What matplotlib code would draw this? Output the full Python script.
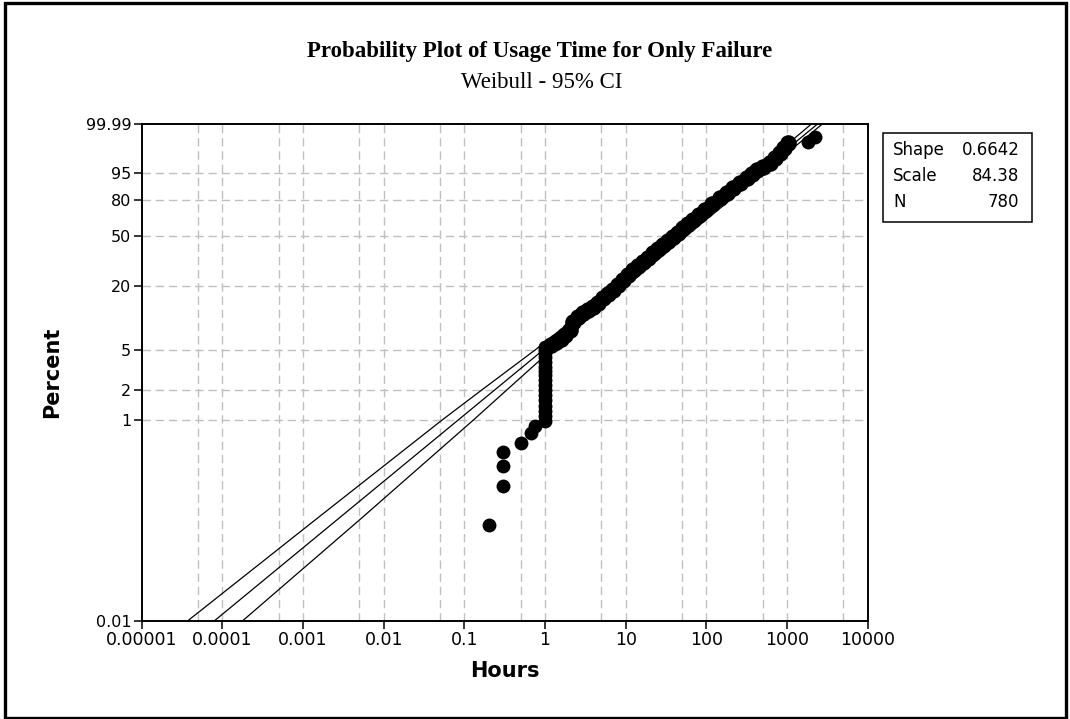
import numpy as np
import matplotlib.pyplot as plt
from matplotlib.patches import Rectangle

# failure data (hours, percent)
low_hours = [0.2, 0.3, 0.3, 0.3, 0.5, 0.68, 0.76]
low_pct = [0.090, 0.22, 0.35, 0.48, 0.60, 0.75, 0.88]

# ties at 1 hour
col_pct = [0.99, 1.1, 1.25, 1.4, 1.6, 1.8, 2.0, 2.25, 2.5, 2.8, 3.1, 3.4,
           3.8, 4.2, 4.6, 5.0, 5.3]

band_hours = [1.19, 1.37, 1.58, 1.77, 2.04, 2.22, 2.56, 2.95, 3.41, 3.93,
              4.53, 5.23, 6.03, 6.96, 8.02, 9.25, 10.7, 12.3, 14.2, 16.4,
              18.9, 21.8, 25.1, 29.0, 33.4, 38.6, 44.5, 51.3, 59.2, 68.2,
              81.0, 96.1, 117, 148, 180, 214, 261, 319, 368, 424,
              503, 615, 709, 818, 917, 1027]
band_pct = [5.53, 5.92, 6.33, 6.92, 7.73, 9.21, 10.28, 11.14, 11.96, 12.84,
            14.05, 15.36, 16.82, 18.28, 20.27, 22.44, 24.80, 27.37, 29.58, 32.10,
            34.72, 37.49, 40.46, 43.37, 46.39, 49.75, 53.15, 56.62, 60.23, 63.61,
            67.83, 71.99, 76.80, 81.10, 84.77, 87.72, 90.64, 92.86, 94.58, 95.90,
            96.87, 97.59, 98.52, 99.08, 99.50, 99.73]

top_hours = [1830, 2220]
top_pct = [99.78, 99.90]

# fitted line and 95% CI
fit_pct = [0.01, 99.99]
fit_hours = [8.0e-5, 2390]
ci_pct = [0.01, 0.1, 1, 2, 5, 20, 50, 80, 95, 99.99]
ci_lower = [3.74e-5, 1.38e-3, 0.0523, 0.164, 0.766, 7.51, 42.3, 150.5, 383, 2008]
ci_upper = [1.79e-4, 4.90e-3, 0.128, 0.335, 1.214, 10.37, 55.8, 198.4, 505, 2742]

shape = "0.6642"
scale = "84.38"
n_obs = "780"

y_ticks = [0.01, 1, 2, 5, 20, 50, 80, 95, 99.99]
y_labels = ["0.01", "1", "2", "5", "20", "50", "80", "95", "99.99"]
x_ticks = [1e-5, 1e-4, 1e-3, 1e-2, 1e-1, 1, 10, 100, 1000, 10000]
x_labels = ["0.00001", "0.0001", "0.001", "0.01", "0.1", "1", "10", "100",
            "1000", "10000"]
x_grid5 = [5e-5, 5e-4, 5e-3, 5e-2, 0.5, 5, 50, 500, 5000]


def weib(p):
    p = np.clip(np.asarray(p, dtype=float), 1e-9, 100 - 1e-9) / 100.0
    return np.log(-np.log(1 - p))


def weib_inv(y):
    return 100 * (1 - np.exp(-np.exp(np.asarray(y, dtype=float))))


fig = plt.figure(figsize=(10.7, 7.19), dpi=100)
ax = fig.add_axes([0.1324, 0.1367, 0.6785, 0.6908])
ax.set_xscale("log")
ax.set_yscale("function", functions=(weib, weib_inv))
ax.set_xlim(1e-5, 1e4)
ax.set_ylim(0.01, 99.99)

gridkw = dict(color="#c0c0c0", lw=1.0, dashes=(6, 3.5), zorder=0)
for p in y_ticks[1:-1]:
    ax.axhline(p, **gridkw)
for h in x_ticks[1:-1] + x_grid5:
    ax.axvline(h, **gridkw)

ax.plot(fit_hours, fit_pct, color="black", lw=0.9, zorder=2)
ax.plot(ci_lower, ci_pct, color="black", lw=0.9, zorder=2)
ax.plot(ci_upper, ci_pct, color="black", lw=0.9, zorder=2)

# dense run of points overlaps into a thick band
ax.plot(band_hours, band_pct, "o", color="black", ms=12, mew=0, zorder=3)
ax.plot(low_hours + [1.0] * len(col_pct) + top_hours,
        low_pct + col_pct + top_pct, "o", color="black", ms=10, mew=0,
        zorder=3)

ax.set_xticks(x_ticks)
ax.set_xticklabels(x_labels, fontsize=12.5)
ax.xaxis.set_minor_locator(plt.NullLocator())
ax.set_yticks(y_ticks)
ax.set_yticklabels(y_labels, fontsize=11.5)
ax.yaxis.set_minor_locator(plt.NullLocator())
ax.tick_params(direction="out", length=5.5, width=1.1, pad=2)
for s in ax.spines.values():
    s.set_linewidth(1.4)

fig.text(0.4717, 0.0668, "Hours", ha="center", va="center",
         fontsize=15, fontweight="bold")
fig.text(0.0486, 0.4826, "Percent", ha="center", va="center",
         fontsize=15, fontweight="bold", rotation=90)

fig.text(0.5042, 0.9277, "Probability Plot of Usage Time for Only Failure",
         ha="center", va="center", fontsize=16.5, fontweight="bold",
         family="Liberation Serif")
fig.text(0.506, 0.8846, "Weibull - 95% CI", ha="center", va="center",
         fontsize=16.5, family="Liberation Serif")

# stats box
fig.patches.append(Rectangle((0.8250, 0.6908), 0.1395, 0.1246,
                             transform=fig.transFigure, fill=False,
                             lw=1.1, ec="black"))
for yy, lab, val in [(0.7914, "Shape", shape), (0.7552, "Scale", scale),
                     (0.7195, "N", n_obs)]:
    fig.text(0.8349, yy, lab, ha="left", va="center", fontsize=12)
    fig.text(0.9526, yy, val, ha="right", va="center", fontsize=12)

# outer frame
fig.patches.append(Rectangle((5 / 1070, 1.5 / 719), 1061 / 1070, 714.5 / 719,
                             transform=fig.transFigure, fill=False,
                             lw=2.4, ec="black"))

fig.savefig("out.png", dpi=100)
